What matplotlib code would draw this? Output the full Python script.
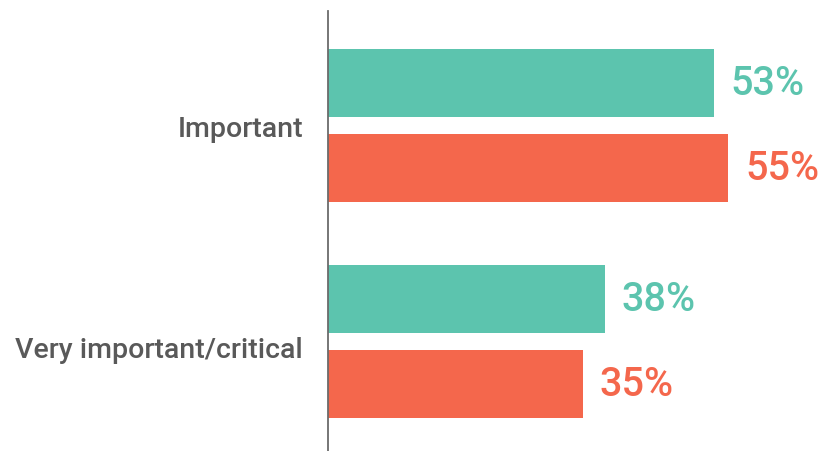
import matplotlib
matplotlib.use("Agg")
import matplotlib.pyplot as plt
import matplotlib.transforms as mtransforms

categories = ["Important", "Very important/critical"]
series_a = [53, 38]
series_b = [55, 35]
color_a = "#5CC4AE"
color_b = "#F4674C"

fig = plt.figure(figsize=(8.3, 4.52), dpi=100)
ax = fig.add_axes([328/830, 0, (810-328)/830, 440/452])

px_per = 7.28
ax.set_xlim(0, 482/px_per)
ax.set_ylim(1 + 0.509, -0.531)

off = 0.197
h = 0.315
for i, (a, b) in enumerate(zip(series_a, series_b)):
    ax.barh(i - off, a, height=h, color=color_a)
    ax.barh(i + off, b, height=h, color=color_b)
    ax.text(a + 2.3, i - off, f"{a}%", va="center", ha="left", fontsize=28.5,
            color=color_a, family="Roboto", fontweight="medium")
    ax.text(b + 2.3, i + off, f"{b}%", va="center", ha="left", fontsize=28.5,
            color=color_b, family="Roboto", fontweight="medium")

ax.set_yticks(range(len(categories)))
ax.set_yticklabels(categories, fontsize=20.5, color="#595959", family="Roboto", fontweight="medium")
ax.tick_params(axis="y", length=0, pad=18)
ax.set_xticks([])
for s in ["top", "right", "bottom"]:
    ax.spines[s].set_visible(False)
ax.spines["left"].set_color("#6b6b6b")
ax.spines["left"].set_linewidth(1.3)

# the second category label sits slightly below its group centre in the reference
lbl = ax.get_yticklabels()[1]
lbl.set_transform(lbl.get_transform() + mtransforms.ScaledTranslation(0, -4/72, fig.dpi_scale_trans))

fig.savefig("out.png", dpi=100)
